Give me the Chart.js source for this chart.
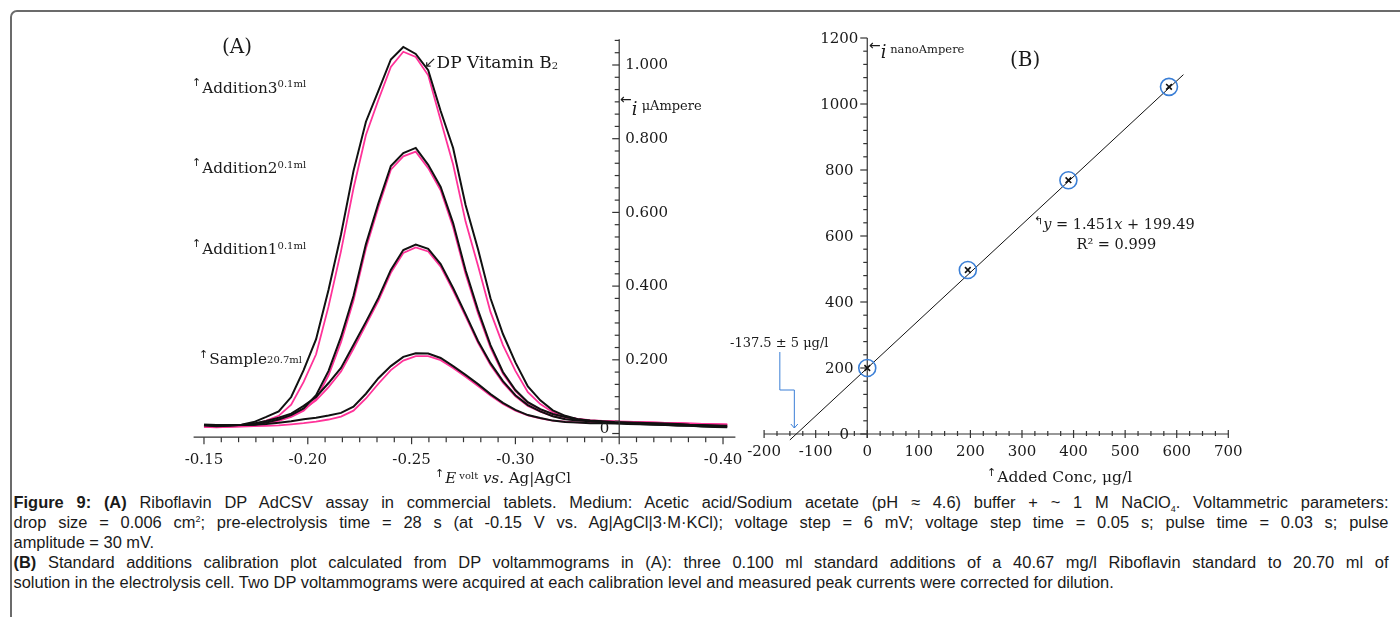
<!DOCTYPE html>
<html>
<head>
<meta charset="utf-8">
<script src="https://cdn.jsdelivr.net/npm/chart.js@4.4.0/dist/chart.umd.min.js"></script>
<style>
html, body { margin: 0; padding: 0; background: #fff; }
body { width: 1400px; height: 617px; position: relative; overflow: hidden; }
#frame { position: absolute; left: 10px; top: 10px; width: 1440px; height: 660px; border: 2px solid #6b6b6b; border-radius: 7px; box-sizing: border-box; }
canvas { position: absolute; top: 0; }
#cA { left: 0; }
#cB { left: 720px; }
.t { position: absolute; top: 0; white-space: nowrap; font-family: "DejaVu Serif", serif; color: #1a1a1a; line-height: 1.2; }
.t span { position: relative; }
#cap { position: absolute; left: 13.5px; top: 491.5px; font-family: "Liberation Sans", Arial, sans-serif; font-size: 14.5px; line-height: 20px; color: #1a1a1a; }
#cap div { white-space: nowrap; height: 20px; }
#cap sub, #cap sup { font-size: 9px; line-height: 0; }
</style>
</head>
<body>
<div id="frame"></div>
<canvas id="cA" width="760" height="490"></canvas>
<canvas id="cB" width="540" height="490"></canvas>
<div id="cap"></div>
<script>
// (A) DP voltammograms, potential in volt, current in microampere
var E = [-0.150, -0.156, -0.162, -0.168, -0.174, -0.180, -0.186, -0.192, -0.198, -0.204,
         -0.210, -0.216, -0.222, -0.228, -0.234, -0.240, -0.246, -0.252, -0.258, -0.264,
         -0.270, -0.276, -0.282, -0.288, -0.294, -0.300, -0.306, -0.312, -0.318, -0.324,
         -0.330, -0.336, -0.342, -0.348, -0.354, -0.360, -0.366, -0.372, -0.378, -0.384,
         -0.390, -0.396, -0.402];

var sampleBlack = [0.024,0.023,0.023,0.023,0.024,0.026,0.029,0.033,0.039,0.043,0.049,0.056,0.073,0.108,0.150,0.183,0.208,0.218,0.217,0.205,0.183,0.159,0.134,0.107,0.083,0.064,0.050,0.042,0.035,0.031,0.030,0.028,0.028,0.027,0.026,0.025,0.024,0.023,0.022,0.021,0.020,0.019,0.018];
var samplePink  = [0.020,0.019,0.019,0.019,0.020,0.021,0.022,0.025,0.028,0.032,0.038,0.046,0.062,0.095,0.135,0.172,0.198,0.210,0.210,0.199,0.178,0.154,0.129,0.103,0.080,0.062,0.049,0.041,0.035,0.032,0.030,0.029,0.029,0.029,0.029,0.028,0.028,0.027,0.027,0.026,0.025,0.025,0.024];
var add1Black   = [0.023,0.022,0.022,0.023,0.027,0.034,0.043,0.054,0.075,0.099,0.137,0.178,0.240,0.303,0.368,0.444,0.498,0.513,0.501,0.460,0.395,0.324,0.251,0.191,0.142,0.104,0.077,0.060,0.047,0.039,0.035,0.033,0.031,0.030,0.029,0.028,0.027,0.026,0.025,0.023,0.022,0.021,0.020];
var add1Pink    = [0.018,0.018,0.019,0.020,0.023,0.029,0.037,0.048,0.066,0.090,0.126,0.168,0.230,0.295,0.360,0.436,0.490,0.505,0.494,0.453,0.388,0.318,0.246,0.186,0.138,0.101,0.075,0.059,0.047,0.040,0.036,0.034,0.033,0.032,0.031,0.031,0.030,0.029,0.028,0.027,0.026,0.025,0.024];
var add2Black   = [0.024,0.023,0.023,0.023,0.024,0.030,0.038,0.050,0.068,0.104,0.170,0.262,0.373,0.514,0.625,0.726,0.761,0.775,0.729,0.669,0.571,0.443,0.335,0.240,0.167,0.118,0.085,0.066,0.053,0.045,0.039,0.035,0.033,0.031,0.030,0.029,0.028,0.027,0.026,0.024,0.023,0.022,0.021];
var add2Pink    = [0.019,0.019,0.020,0.020,0.022,0.027,0.034,0.045,0.062,0.094,0.158,0.248,0.360,0.502,0.614,0.716,0.752,0.765,0.720,0.660,0.560,0.433,0.326,0.233,0.162,0.115,0.083,0.065,0.053,0.045,0.040,0.036,0.034,0.033,0.032,0.031,0.030,0.029,0.028,0.027,0.026,0.025,0.024];
var add3Black   = [0.022,0.020,0.021,0.024,0.031,0.045,0.060,0.099,0.172,0.256,0.390,0.540,0.712,0.846,0.930,1.015,1.049,1.030,0.986,0.875,0.775,0.620,0.500,0.367,0.270,0.193,0.128,0.090,0.063,0.048,0.039,0.034,0.031,0.029,0.028,0.026,0.025,0.024,0.022,0.021,0.019,0.018,0.017];
var add3Pink    = [0.018,0.017,0.018,0.020,0.025,0.035,0.048,0.078,0.140,0.215,0.345,0.495,0.665,0.810,0.905,0.995,1.036,1.022,0.972,0.850,0.730,0.575,0.455,0.330,0.240,0.170,0.112,0.080,0.058,0.046,0.039,0.035,0.033,0.032,0.031,0.030,0.029,0.029,0.028,0.027,0.026,0.025,0.024];

var A_X_TICKS = [-0.15, -0.20, -0.25, -0.30, -0.35, -0.40];
var A_X_LABELS = ['-0.15', '-0.20', '-0.25', '-0.30', '-0.35', '-0.40'];
var A_Y_TICKS = [0, 0.2, 0.4, 0.6, 0.8, 1.0];
var A_Y_LABELS = ['0', '0.200', '0.400', '0.600', '0.800', '1.000'];

// (B) standard additions calibration
var addedConc = [0, 195, 390, 585];        // µg/l
var peakCurrent = [200, 497, 769, 1052];   // nA
var fitConc = [-150, 613];
var fitCurrent = [-18, 1089];
var INTERCEPT = -137.5;

var B_X_TICKS = [-200, -100, 0, 100, 200, 300, 400, 500, 600, 700];
var B_Y_TICKS = [0, 200, 400, 600, 800, 1000, 1200];

var PINK = '#ff3399';
var BLUE = '#3b7fd6';
var AXIS = '#333';
var TICKFONT = '15px "DejaVu Serif"';

function pts(xs, ys) {
  return xs.map(function(x, i) { return {x: x, y: ys[i]}; });
}

function seg(ctx, x1, y1, x2, y2) {
  ctx.beginPath(); ctx.moveTo(x1, y1); ctx.lineTo(x2, y2); ctx.stroke();
}

function curve(data, color, w) {
  return {data: data, showLine: true, borderColor: color, borderWidth: w, pointRadius: 0, fill: false, tension: 0};
}

// axes of (A): E axis along the bottom, current axis standing at -0.35 V
var axesA = {
  id: 'axesA',
  afterDatasetsDraw: function(chart) {
    var ctx = chart.ctx, x = chart.scales.x, y = chart.scales.y;
    var yb = y.getPixelForValue(y.min);
    var xa = x.getPixelForValue(-0.35);
    ctx.save();
    ctx.strokeStyle = AXIS; ctx.lineWidth = 1.2;
    seg(ctx, x.left, yb, x.right + 2, yb);
    var step = (A_X_TICKS[1] - A_X_TICKS[0]) / 6;
    for (var i = 0; i <= (A_X_TICKS.length - 1) * 6; i++) {
      var px = x.getPixelForValue(A_X_TICKS[0] + step * i);
      seg(ctx, px, yb, px, yb + (i % 6 === 0 ? 7 : 5));
    }
    seg(ctx, xa, yb, xa, y.getPixelForValue(y.max));
    var ystep = (A_Y_TICKS[1] - A_Y_TICKS[0]) / 6;
    for (var j = 0; A_Y_TICKS[0] + ystep * j <= y.max; j++) {
      var py = y.getPixelForValue(A_Y_TICKS[0] + ystep * j);
      seg(ctx, xa, py, xa - (j % 6 === 0 ? 7 : 4.5), py);
    }
    ctx.fillStyle = '#1a1a1a'; ctx.font = TICKFONT; ctx.textBaseline = 'middle';
    ctx.textAlign = 'center';
    A_X_TICKS.forEach(function(v, k) { ctx.fillText(A_X_LABELS[k], x.getPixelForValue(v), yb + 23); });
    A_Y_TICKS.forEach(function(v, k) {
      var py = y.getPixelForValue(v);
      if (v === 0) { ctx.textAlign = 'right'; ctx.fillText(A_Y_LABELS[k], xa - 10, py - 4.5); }
      else { ctx.textAlign = 'left'; ctx.fillText(A_Y_LABELS[k], xa + 6, py + 0.5); }
    });
    ctx.restore();
  }
};

// axes of (B): crossing at the origin
var axesB = {
  id: 'axesB',
  beforeDatasetsDraw: function(chart) {
    var ctx = chart.ctx, x = chart.scales.x, y = chart.scales.y;
    var y0 = y.getPixelForValue(0), x0 = x.getPixelForValue(0);
    var last = B_X_TICKS.length - 1;
    ctx.save();
    ctx.strokeStyle = AXIS; ctx.lineWidth = 1.2;
    seg(ctx, x.getPixelForValue(B_X_TICKS[0]), y0, x.getPixelForValue(B_X_TICKS[last]), y0);
    var step = (B_X_TICKS[1] - B_X_TICKS[0]) / 4;
    for (var i = 0; i <= last * 4; i++) {
      var px = x.getPixelForValue(B_X_TICKS[0] + step * i);
      if (i % 4 === 0) seg(ctx, px, y0 - 4, px, y0 + 4); else seg(ctx, px, y0 - 3, px, y0 + 2);
    }
    var ylast = B_Y_TICKS.length - 1;
    seg(ctx, x0, y0 + 4, x0, y.getPixelForValue(B_Y_TICKS[ylast]));
    var ystep = (B_Y_TICKS[1] - B_Y_TICKS[0]) / 5;
    for (var j = 0; j <= ylast * 5; j++) {
      var py = y.getPixelForValue(B_Y_TICKS[0] + ystep * j);
      seg(ctx, x0, py, x0 - (j % 5 === 0 ? 7 : 4), py);
    }
    ctx.fillStyle = '#1a1a1a'; ctx.font = TICKFONT; ctx.textBaseline = 'middle'; ctx.textAlign = 'center';
    B_X_TICKS.forEach(function(v) { ctx.fillText(String(v), x.getPixelForValue(v), y0 + 18); });
    B_Y_TICKS.forEach(function(v) {
      ctx.fillText(String(v), v === 0 ? x0 - 23 : x0 - 28, y.getPixelForValue(v) + 1);
    });
    // blue elbow arrow to the x-intercept
    var tip = x.getPixelForValue(INTERCEPT) - 2;
    ctx.strokeStyle = BLUE; ctx.lineWidth = 1;
    ctx.beginPath();
    ctx.moveTo(tip - 14.5, 352); ctx.lineTo(tip - 14.5, 390); ctx.lineTo(tip, 390); ctx.lineTo(tip, y0 - 6);
    ctx.stroke();
    ctx.beginPath(); ctx.moveTo(tip - 3.5, y0 - 10); ctx.lineTo(tip, y0 - 6); ctx.lineTo(tip + 3.5, y0 - 10); ctx.stroke();
    ctx.restore();
  }
};

new Chart(document.getElementById('cA'), {
  type: 'scatter',
  data: {
    datasets: [
      curve(pts(E, add3Black), '#111', 2),
      curve(pts(E, add2Black), '#111', 2),
      curve(pts(E, add1Black), '#111', 2),
      curve(pts(E, sampleBlack), '#111', 2),
      curve(pts(E, add3Pink), PINK, 1.8),
      curve(pts(E, add2Pink), PINK, 1.8),
      curve(pts(E, add1Pink), PINK, 1.8),
      curve(pts(E, samplePink), PINK, 1.8)
    ]
  },
  options: {
    responsive: false, animation: false, events: [],
    layout: {padding: {left: 193.6, right: 26.6, top: 39.2, bottom: 52.8}},
    scales: {
      x: {type: 'linear', min: -0.405, max: -0.145, reverse: true, display: false},
      y: {type: 'linear', min: -0.01, max: 1.07, display: false}
    },
    plugins: {legend: {display: false}, tooltip: {enabled: false}}
  },
  plugins: [axesA]
});

new Chart(document.getElementById('cB'), {
  type: 'scatter',
  data: {
    datasets: [
      {data: pts(addedConc, peakCurrent), pointStyle: 'crossRot', pointRadius: 4, borderColor: '#111', borderWidth: 1.6},
      {data: pts(addedConc, peakCurrent), pointStyle: 'circle', pointRadius: 8.5, borderColor: BLUE, backgroundColor: 'rgba(0,0,0,0)', borderWidth: 1.6},
      {data: pts(fitConc, fitCurrent), showLine: true, borderColor: '#111', borderWidth: 1, pointRadius: 0, fill: false}
    ]
  },
  options: {
    responsive: false, animation: false, events: [],
    layout: {padding: {left: 44.1, right: 31.7, top: 38, bottom: 46.1}},
    scales: {
      x: {type: 'linear', min: -200, max: 700, display: false},
      y: {type: 'linear', min: -30, max: 1200, display: false}
    },
    plugins: {legend: {display: false}, tooltip: {enabled: false}}
  },
  plugins: [axesB]
});

// text labels placed by their baseline
function label(x, base, html, size) {
  var d = document.createElement('div');
  d.className = 't';
  d.style.left = x + 'px';
  d.style.fontSize = size + 'px';
  d.innerHTML = html + '<i style="display:inline-block;width:0;height:0"></i>';
  document.body.appendChild(d);
  d.style.top = (base - d.lastChild.offsetTop) + 'px';
}
function sm(txt, size, dy, extra) {
  return '<span style="font-size:' + size + 'px;top:' + dy + 'px;' + (extra || '') + '">' + txt + '</span>';
}

var UP = 'font-family:\'DejaVu Sans\';margin-right:1px';
label(222, 52.5, '(A)', 20);
label(192, 92.7, sm('↑', 11, -7, UP) + 'Addition3' + sm('0.1ml', 10, -5.5), 15.3);
label(192, 173.3, sm('↑', 11, -7, UP) + 'Addition2' + sm('0.1ml', 10, -5.5), 15.3);
label(192, 254, sm('↑', 11, -7, UP) + 'Addition1' + sm('0.1ml', 10, -5.5), 15.3);
label(199, 364, sm('↑', 11, -6, UP) + 'Sample' + sm('20.7ml', 10, -1.5), 15.3);
label(424, 68.3, sm('↙', 15, -1, 'font-family:\'DejaVu Sans\'') + 'DP Vitamin B' + sm('2', 10, 1), 17);
label(620, 115, sm('←', 14, -11, 'font-family:\'DejaVu Sans\'') + '<i>i</i>' + sm(' μAmpere', 13, -5), 18);
label(435, 483, sm('↑', 11, -6, UP) + '<i>E</i>' + sm(' volt', 10, -4) + ' <i>vs.</i> Ag|AgCl', 15);

label(1010, 65.7, '(B)', 20);
label(869, 58, sm('←', 14, -8, 'font-family:\'DejaVu Sans\'') + '<i>i</i>' + sm(' nanoAmpere', 11.5, -4.7), 18);
label(1034, 229, sm('↰', 11, -5, 'font-family:\'DejaVu Sans\'') + '<i>y</i> = 1.451<i>x</i> + 199.49', 14.5);
label(1076.5, 249, 'R² = 0.999', 14.5);
label(730, 347.3, '-137.5 ± 5 μg/l', 13);
label(987, 482, sm('↑', 11, -6, UP) + 'Added Conc, μg/l', 15.5);

// caption
var CAP_LINES = [
  {h: '<b>Figure 9: (A)</b> Riboflavin DP AdCSV assay in commercial tablets. Medium: Acetic acid/Sodium acetate (pH ≈ 4.6) buffer + ~ 1 M NaClO<sub>4</sub>. Voltammetric parameters:', j: true},
  {h: 'drop size = 0.006 cm<sup>2</sup>; pre-electrolysis time = 28 s (at -0.15 V vs. Ag|AgCl|3·M·KCl); voltage step = 6 mV; voltage step time = 0.05 s; pulse time = 0.03 s; pulse', j: true},
  {h: 'amplitude = 30 mV.', j: false},
  {h: '<b>(B)</b> Standard additions calibration plot calculated from DP voltammograms in (A): three 0.100 ml standard additions of a 40.67 mg/l Riboflavin standard to 20.70 ml of', j: true},
  {h: 'solution in the electrolysis cell. Two DP voltammograms were acquired at each calibration level and measured peak currents were corrected for dilution.', j: false}
];
var CAP_W = 1375, CAP_LAST_W = 1101;

var cap = document.getElementById('cap');
var spans = CAP_LINES.map(function(l) {
  var d = document.createElement('div');
  var s = document.createElement('span');
  s.innerHTML = l.h;
  d.appendChild(s); cap.appendChild(d);
  return s;
});
// size the caption font so the last (unjustified) line has the width seen in the figure
var w5 = spans[4].getBoundingClientRect().width;
var fs = Math.min(16.5, 14.5 * CAP_LAST_W / w5);
cap.style.fontSize = fs + 'px';
CAP_LINES.forEach(function(l, i) {
  if (!l.j) return;
  var s = spans[i];
  var w = s.getBoundingClientRect().width;
  var n = (s.textContent.match(/ /g) || []).length;
  s.style.wordSpacing = Math.max(0, (CAP_W - w) / n) + 'px';
});
</script>
</body>
</html>
